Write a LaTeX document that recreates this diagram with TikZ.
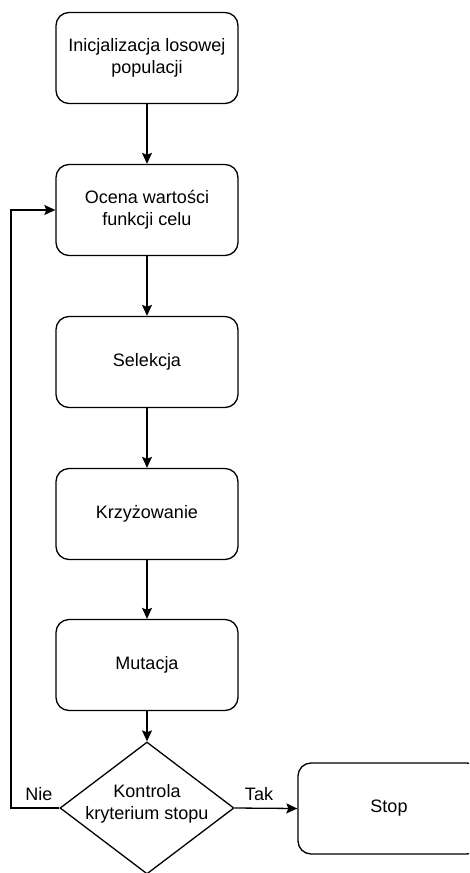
\documentclass[tikz,border=0pt]{standalone}
\usepackage{fontspec}
\setmainfont{Liberation Sans}
\usetikzlibrary{shapes.geometric,arrows.meta}
\begin{document}
\begin{tikzpicture}[x=1pt,y=-1pt,
  font=\fontsize{18}{22}\selectfont,
  box/.style={draw, line width=1.3pt, rounded corners=13pt, minimum width=182pt, minimum height=91pt, align=center, inner sep=0pt},
  arr/.style={line width=1.3pt, -{Stealth[length=11pt,width=10pt,inset=2pt]}},
  lbl/.style={inner sep=0pt}]
\clip (0,0) rectangle (469,873);
\useasboundingbox (0,0) rectangle (469,873);
\node[box] (b1) at (147,58) {Inicjalizacja losowej\\populacji};
\node[box] (b2) at (147,210) {Ocena wartości\\funkcji celu};
\node[box] (b3) at (147,362) {Selekcja};
\node[box] (b4) at (147,514) {Krzyżowanie};
\node[box] (b5) at (147,665) {Mutacja};
\node[draw, line width=1.3pt, diamond, minimum width=174pt, minimum height=132pt, inner sep=0pt] (dec) at (147,808) {};
\node[align=center, inner sep=0pt] (dect) at (147,804) {Kontrola\\kryterium stopu};
\node[box] (stop) at (389,808.5) {Stop};
\draw[arr] (b1) -- (b2);
\draw[arr] (b2) -- (b3);
\draw[arr] (b3) -- (b4);
\draw[arr] (b4) -- (b5);
\draw[arr] (b5) -- (dec);
\draw[arr] (dec.east) -- (stop.west);
\coordinate (lp) at (11,808);
\draw[arr] (dec.west) -- (lp) |- (b2.west);
\node[lbl] (nie) at (39,794) {Nie};
\node[lbl] (tak) at (259,794) {Tak};
\end{tikzpicture}
\end{document}
